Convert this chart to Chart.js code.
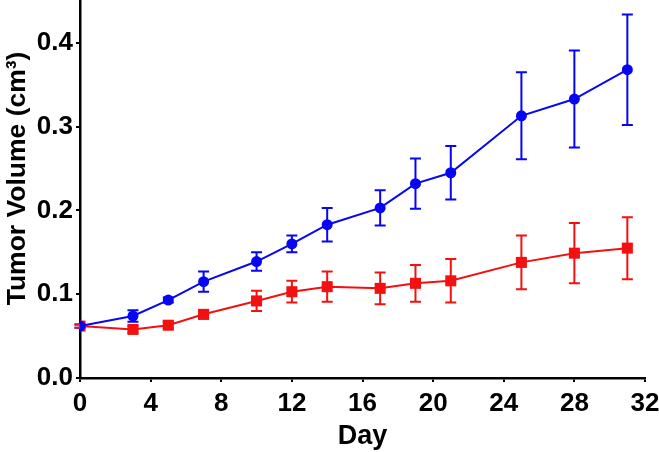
<!DOCTYPE html>
<html>
<head>
<meta charset="utf-8">
<script src="https://cdn.jsdelivr.net/npm/chart.js@4"></script>
<style>
  html, body { margin: 0; padding: 0; background: #fff; }
  #wrap { width: 659px; height: 452px; position: relative; }
</style>
</head>
<body>
<div id="wrap"><canvas id="tumorChart"></canvas></div>
<script>
'use strict';

const days = [0, 3, 5, 7, 10, 12, 14, 17, 19, 21, 25, 28, 31];
const blueMean = [0.062, 0.074, 0.093, 0.115, 0.139, 0.160, 0.183, 0.203, 0.232, 0.245, 0.313, 0.333, 0.368];
const blueErr = [0.002, 0.007, 0.003, 0.012, 0.011, 0.010, 0.020, 0.021, 0.030, 0.032, 0.052, 0.058, 0.066];
const redMean = [0.062, 0.058, 0.063, 0.076, 0.092, 0.103, 0.109, 0.107, 0.113, 0.116, 0.138, 0.149, 0.155];
const redErr = [0.002, 0.004, 0.004, 0.005, 0.012, 0.013, 0.018, 0.019, 0.022, 0.026, 0.032, 0.036, 0.037];
const xTicks = [0, 4, 8, 12, 16, 20, 24, 28, 32];
const yTicks = [0.0, 0.1, 0.2, 0.3, 0.4];

const BLUE = '#0606f2';
const RED = '#f21010';
const FONT = "'Liberation Sans', Arial, sans-serif";

const toPoints = (xs, ys) => xs.map((x, i) => ({ x: x, y: ys[i] }));

// error bars drawn under the lines and markers
const errorBars = {
  id: 'errorBars',
  beforeDatasetsDraw(chart) {
    const ctx = chart.ctx;
    const xs = chart.scales.x;
    const ys = chart.scales.y;
    chart.data.datasets.forEach(ds => {
      ctx.save();
      ctx.strokeStyle = ds.borderColor;
      ctx.lineWidth = 2;
      ds.data.forEach((p, i) => {
        const e = ds.errors[i];
        const px = xs.getPixelForValue(p.x);
        const top = ys.getPixelForValue(p.y + e);
        const bot = ys.getPixelForValue(p.y - e);
        ctx.beginPath();
        ctx.moveTo(px, top);
        ctx.lineTo(px, bot);
        ctx.moveTo(px - 5.5, top);
        ctx.lineTo(px + 5.5, top);
        ctx.moveTo(px - 5.5, bot);
        ctx.lineTo(px + 5.5, bot);
        ctx.stroke();
      });
      ctx.restore();
    });
  }
};

new Chart(document.getElementById('tumorChart'), {
  type: 'scatter',
  data: {
    datasets: [{
      label: 'Blue',
      data: toPoints(days, blueMean),
      errors: blueErr,
      showLine: true,
      borderColor: BLUE,
      backgroundColor: BLUE,
      borderWidth: 2,
      pointStyle: 'circle',
      pointRadius: 5.5,
      pointBorderWidth: 0,
      pointBackgroundColor: BLUE
    }, {
      label: 'Red',
      data: toPoints(days, redMean),
      errors: redErr,
      showLine: true,
      borderColor: RED,
      backgroundColor: RED,
      borderWidth: 2,
      pointStyle: 'rect',
      pointRadius: 7.8,
      pointBorderWidth: 0,
      pointBackgroundColor: RED
    }]
  },
  options: {
    responsive: true,
    maintainAspectRatio: false,
    animation: false,
    layout: { autoPadding: false, padding: { top: 1, right: 14, left: 0, bottom: 0 } },
    plugins: { legend: { display: false }, tooltip: { enabled: false } },
    scales: {
      x: {
        type: 'linear',
        min: 0,
        max: 32,
        afterBuildTicks: s => { s.ticks = xTicks.map(v => ({ value: v })); },
        afterFit: s => { s.height = 74; s.paddingLeft = 0; s.paddingRight = 0; },
        border: { display: true, color: '#000', width: 2.5 },
        grid: { drawOnChartArea: false, drawTicks: true, tickLength: 4, color: '#000', lineWidth: 2 },
        ticks: {
          color: '#000',
          padding: 6,
          font: { family: FONT, size: 26, weight: 'bold' },
          maxRotation: 0
        },
        title: {
          display: true,
          text: 'Day',
          color: '#000',
          padding: { top: 0, bottom: -1 },
          font: { family: FONT, size: 27, weight: 'bold' }
        }
      },
      y: {
        min: 0,
        max: 0.45,
        afterBuildTicks: s => { s.ticks = yTicks.map(v => ({ value: v })); },
        afterFit: s => { s.width = 80; s.paddingTop = 0; s.paddingBottom = 0; },
        border: { display: true, color: '#000', width: 2.5 },
        grid: { drawOnChartArea: false, drawTicks: true, tickLength: 4, color: '#000', lineWidth: 2 },
        ticks: {
          color: '#000',
          padding: 3,
          font: { family: FONT, size: 26, weight: 'bold' },
          callback: v => v.toFixed(1)
        },
        title: {
          display: true,
          text: '   Tumor Volume (cm³)',
          color: '#000',
          padding: { top: 2, bottom: 0 },
          font: { family: FONT, size: 26.5, weight: 'bold' }
        }
      }
    }
  },
  plugins: [errorBars]
});
</script>
</body>
</html>
